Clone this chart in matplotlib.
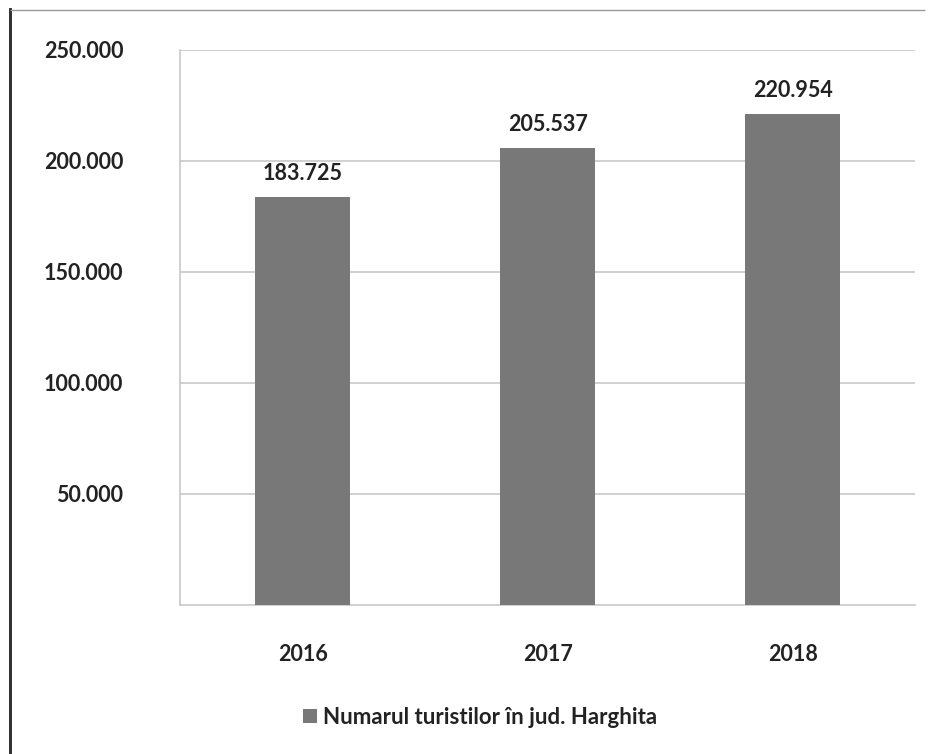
import matplotlib
matplotlib.use("Agg")
import matplotlib.pyplot as plt
from matplotlib.patches import Rectangle
from matplotlib.ticker import FuncFormatter

years = ["2016", "2017", "2018"]
tourists = [183725, 205537, 220954]
series_label = "Numarul turistilor în jud. Harghita"
y_ticks = [50000, 100000, 150000, 200000, 250000]

plt.rcParams['font.family'] = ['Lato', 'DejaVu Sans']
plt.rcParams['font.weight'] = 'bold'

def fmt(v):
    return f"{int(v):,}".replace(",", ".")

fig = plt.figure(figsize=(9.29, 7.54), dpi=100)
fig.patch.set_facecolor("white")
ax = fig.add_axes([0.194, 0.198, 0.791, 0.736])

x = range(len(years))
bars = ax.bar(x, tourists, width=0.39, color="#787878", label=series_label, zorder=3)
for xi, v in zip(x, tourists):
    ax.text(xi, v + 6000, fmt(v), ha="center", va="bottom", fontsize=15.5,
            fontweight="bold", color="#222222")

ax.set_xlim(-0.5, 2.5)
ax.set_ylim(0, 250000)
ax.set_xticks(list(x))
ax.set_xticklabels(years)
ax.set_yticks(y_ticks)
ax.yaxis.set_major_formatter(FuncFormatter(lambda v, p: fmt(v)))
ax.tick_params(axis="y", length=0, pad=41, labelsize=15.5, labelcolor="#222222")
ax.tick_params(axis="x", length=0, pad=28, labelsize=15.5, labelcolor="#222222")
for lbl in ax.get_xticklabels() + ax.get_yticklabels():
    lbl.set_fontweight("bold")

ax.grid(axis="y", color="#c8c8c8", linewidth=1.2, zorder=0)
for s in ["top", "right"]:
    ax.spines[s].set_visible(False)
ax.spines["left"].set_color("#c8c8c8")
ax.spines["bottom"].set_color("#c8c8c8")
ax.spines["left"].set_linewidth(1.2)
ax.spines["bottom"].set_linewidth(1.2)

leg = fig.legend(handles=[bars], labels=[series_label], loc="center",
                 bbox_to_anchor=(0.517, 0.049), frameon=False,
                 handlelength=0.6, handleheight=0.6, handletextpad=0.3,
                 prop={"family": ["Lato", "DejaVu Sans"], "weight": "bold", "size": 16})
for t in leg.get_texts():
    t.set_color("#222222")

# scanned page border
fig.add_artist(Rectangle((0.011, -0.01), 0.0, 1.0, transform=fig.transFigure,
                         edgecolor="#333333", linewidth=2, fill=False))
fig.add_artist(Rectangle((0.011, 0.987), 0.985, 0.0, transform=fig.transFigure,
                         edgecolor="#999999", linewidth=1, fill=False))

fig.savefig("out.png", dpi=100, facecolor="white")
